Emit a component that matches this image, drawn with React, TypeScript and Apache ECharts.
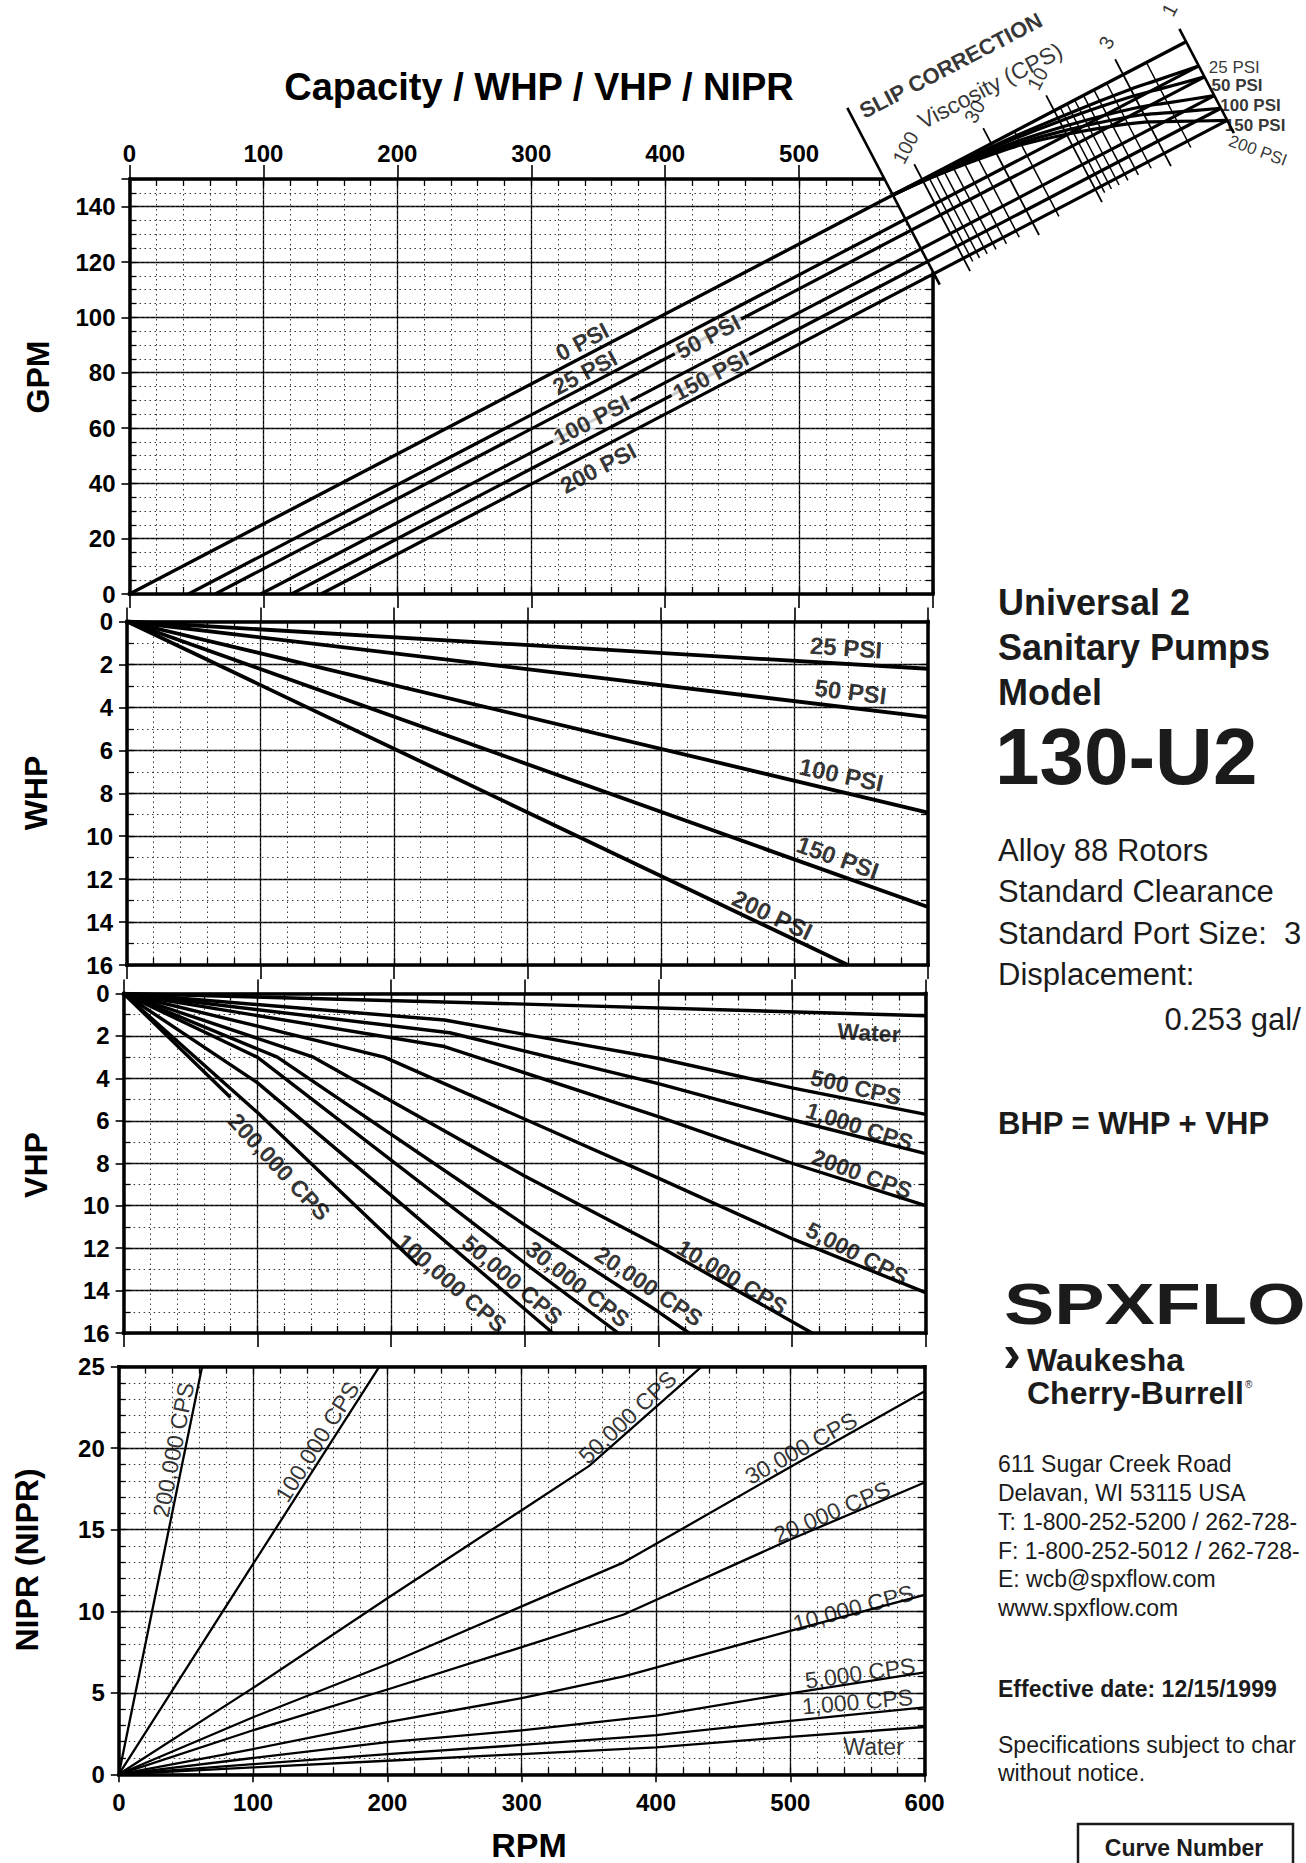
import React, { useEffect, useRef } from "react";
import * as echarts from "echarts";

const PAGE_W = 1306;
const PAGE_H = 1863;
const SANS = "'Liberation Sans', Arial, Helvetica, sans-serif";
const INK = "#000";
const TEXT_INK = "#1b1b1b";

// ================= DATA =================
// Capacity (GPM) vs RPM
const GPM_PER_REV = 0.253;
const PRESSURES = ["0 PSI", "25 PSI", "50 PSI", "100 PSI", "150 PSI", "200 PSI"];
const ZERO_FLOW_RPM = [0, 44, 64, 98, 121, 143];

// Slip correction nomogram (positions measured on the 0 PSI line, in RPM)
const NOMO_BASE_RPM = 570; // slip-correction baseline
const NOMO_100CPS_RPM = 592;
const NOMO_1CPS_RPM = 789;
const VISC_MAJOR = [100, 30, 10, 3, 1];
const VISC_MINOR = [90, 80, 70, 60, 50, 40, 20, 9, 8, 7, 6, 5, 4, 2];
const SLIP_VISC = [100, 50, 30, 20, 10, 5, 3, 2, 1];
const SLIP_FRACTION = [0.02, 0.07, 0.12, 0.17, 0.3, 0.46, 0.6, 0.75, 1];

// WHP vs RPM
const WHP_25 = [[0, 0], [600, 2.2]];
const WHP_50 = [[0, 0], [600, 4.45]];
const WHP_100 = [[0, 0], [600, 8.9]];
const WHP_150 = [[0, 0], [600, 13.3]];
const WHP_200 = [[0, 0], [540, 16]];

// VHP vs RPM
const VHP_WATER = [[0, 0], [300, 0.5], [600, 1.05]];
const VHP_500 = [[0, 0], [240, 1.25], [400, 3.05], [500, 4.45], [600, 5.7]];
const VHP_1000 = [[0, 0], [244, 1.85], [400, 4.25], [500, 5.95], [600, 7.55]];
const VHP_2000 = [[0, 0], [240, 2.5], [400, 5.8], [500, 8.0], [600, 10.0]];
const VHP_5000 = [[0, 0], [195, 3.0], [400, 8.7], [500, 11.55], [600, 14.1]];
const VHP_10000 = [[0, 0], [142, 3.0], [300, 8.6], [400, 11.9], [515, 16]];
const VHP_20000 = [[0, 0], [115, 3.0], [300, 10.9], [400, 15.0], [423, 16]];
const VHP_30000 = [[0, 0], [100, 3.0], [300, 12.7], [370, 16]];
const VHP_50000 = [[0, 0], [100, 4.2], [200, 9.5], [321, 16]];
const VHP_100000 = [[0, 0], [100, 5.6], [220, 12.8]];
const VHP_200000 = [[0, 0], [80, 4.9]];

// NIPR vs RPM
const NIPR_WATER = [[0, 0], [100, 0.42], [200, 0.83], [300, 1.24], [400, 1.65], [500, 2.3], [600, 2.9]];
const NIPR_1000 = [[0, 0], [100, 0.62], [200, 1.24], [300, 1.8], [400, 2.4], [500, 3.28], [600, 4.1]];
const NIPR_5000 = [[0, 0], [100, 1.0], [200, 1.97], [300, 2.7], [400, 3.6], [500, 4.97], [600, 6.25]];
const NIPR_10000 = [[0, 0], [100, 1.55], [200, 3.2], [300, 4.67], [376, 6.0], [500, 8.8], [600, 11.0]];
const NIPR_20000 = [[0, 0], [100, 2.7], [200, 5.2], [300, 7.8], [376, 9.8], [500, 14.4], [600, 17.9]];
const NIPR_30000 = [[0, 0], [100, 3.5], [200, 6.75], [300, 10.3], [376, 13.0], [500, 18.85], [600, 23.5]];
const NIPR_50000 = [[0, 0], [100, 5.3], [200, 10.8], [300, 16.2], [350, 18.9], [434, 25]];
const NIPR_100000 = [[0, 0], [100, 12.9], [194, 25]];
const NIPR_200000 = [[0, 0], [62, 25]];

// ================= LAYOUT =================
const PANELS = [
  { left: 129.5, top: 179, right: 933, bottom: 594, yMax: 150, yMajor: 20, yMinor: 5, inverse: false },
  { left: 127, top: 621.5, right: 928, bottom: 965, yMax: 16, yMajor: 2, yMinor: 1, inverse: true },
  { left: 123.6, top: 993.5, right: 925.7, bottom: 1333, yMax: 16, yMajor: 2, yMinor: 1, inverse: true },
  { left: 118.8, top: 1366.7, right: 924.6, bottom: 1774.3, yMax: 25, yMajor: 5, yMinor: 1, inverse: false },
];
// overlay of the capacity panel, same scale, extended up/right for the nomogram
const OVER_X_MAX = 870;
const OVER_Y_MAX = 212;

const GPM_LABELS = [
  { text: "0 PSI", at: [338, 91.2], rot: 27.6 },
  { text: "25 PSI", at: [340, 80.1], rot: 27.6 },
  { text: "100 PSI", at: [345, 62.8], rot: 27.6, gap: true },
  { text: "200 PSI", at: [350, 45.5], rot: 27.6 },
  { text: "50 PSI", at: [432, 93], rot: 27.6, gap: true },
  { text: "150 PSI", at: [434, 79], rot: 27.6, gap: true },
];
const WHP_LABELS = [
  { text: "25 PSI", at: [538.6, 1.22], rot: -4 },
  { text: "50 PSI", at: [542, 3.27], rot: -7 },
  { text: "100 PSI", at: [535, 7.14], rot: -12 },
  { text: "150 PSI", at: [532.4, 11.0], rot: -19.6 },
  { text: "200 PSI", at: [483.4, 13.67], rot: -25.4 },
];
const VHP_LABELS = [
  { text: "Water", at: [557.6, 1.85], rot: -3 },
  { text: "500 CPS", at: [547.8, 4.42], rot: -13 },
  { text: "1,000 CPS", at: [550.5, 6.27], rot: -18 },
  { text: "2000 CPS", at: [552.3, 8.5], rot: -20 },
  { text: "5,000 CPS", at: [548.7, 12.25], rot: -27 },
  { text: "10,000 CPS", at: [455.3, 13.37], rot: -31 },
  { text: "20,000 CPS", at: [393, 13.8], rot: -34 },
  { text: "30,000 CPS", at: [339.7, 13.7], rot: -38 },
  { text: "50,000 CPS", at: [290.8, 13.5], rot: -40.5 },
  { text: "100,000 CPS", at: [245.4, 13.65], rot: -41 },
  { text: "200,000 CPS", at: [116.5, 8.17], rot: -47 },
];
const NIPR_LABELS = [
  { text: "200,000 CPS", at: [40.7, 19.9], rot: 79 },
  { text: "100,000 CPS", at: [147.8, 20.4], rot: 58 },
  { text: "50,000 CPS", at: [378.8, 21.9], rot: 43 },
  { text: "30,000 CPS", at: [508, 20.0], rot: 29 },
  { text: "20,000 CPS", at: [531, 16.1], rot: 23 },
  { text: "10,000 CPS", at: [547, 10.2], rot: 15 },
  { text: "5,000 CPS", at: [552, 6.2], rot: 8 },
  { text: "1,000 CPS", at: [550, 4.45], rot: 5 },
  { text: "Water", at: [562, 1.68], rot: 0 },
];
const NOMO_END_LABELS = [
  { idx: 1, off: [10, 2], rot: 0, weight: "normal" },
  { idx: 2, off: [7, 9], rot: 0, weight: "bold" },
  { idx: 3, off: [6, 10], rot: 0, weight: "bold" },
  { idx: 4, off: [4, 17], rot: 0, weight: "bold" },
  { idx: 5, off: [9, 18], rot: -20, weight: "normal" },
];

// ================= BUILD =================
function buildOption() {
  const tickLabel = { color: INK, fontFamily: SANS, fontWeight: "bold", fontSize: 24 };
  const frame = (show) => ({ show, onZero: false, lineStyle: { color: INK, width: 3.5, cap: "square" } });
  const majorSplit = { show: true, lineStyle: { color: INK, width: 1.3 } };
  const minorSplit = { show: true, lineStyle: { color: "#3a3a3a", width: 1, type: [1.5, 3.5] } };
  const innerTick = { show: true, inside: true, length: 7, lineStyle: { color: INK, width: 1.3 } };

  const grids = [];
  const xAxis = [];
  const yAxis = [];
  PANELS.forEach((p, i) => {
    const gpm = i === 0;
    const nipr = i === 3;
    grids.push({ left: p.left, top: p.top, width: p.right - p.left, height: p.bottom - p.top, containLabel: false, outerBoundsMode: "none", show: false });
    const xb = { type: "value", gridIndex: i, min: 0, max: 600 };
    xAxis.push(
      { ...xb, interval: 100, position: "bottom", axisLine: frame(true),
        axisTick: { show: true, inside: false, length: nipr ? 8 : 14, lineStyle: { color: INK, width: 1.6 } },
        axisLabel: { show: nipr, margin: 16, ...tickLabel }, splitLine: majorSplit },
      { ...xb, interval: 20, position: "bottom", axisLine: { show: false, onZero: false },
        axisTick: innerTick, axisLabel: { show: false }, splitLine: minorSplit },
      { ...xb, interval: 100, position: "top", axisLine: frame(!gpm),
        axisTick: { show: !nipr, inside: false, length: 14, lineStyle: { color: INK, width: 1.6 } },
        axisLabel: { show: gpm, margin: 14, ...tickLabel, formatter: (v) => (v >= 600 ? "" : String(v)) },
        splitLine: { show: false } },
      { ...xb, interval: 20, position: "top", axisLine: { show: false, onZero: false },
        axisTick: innerTick, axisLabel: { show: false }, splitLine: { show: false } }
    );
    const yb = { type: "value", gridIndex: i, min: 0, max: p.yMax, inverse: p.inverse };
    yAxis.push(
      { ...yb, interval: p.yMajor, position: "left", axisLine: frame(true),
        axisTick: { show: true, inside: false, length: 8, lineStyle: { color: INK, width: 1.6 } },
        axisLabel: { show: true, margin: 14, ...tickLabel, formatter: (v) => (v % p.yMajor === 0 ? String(v) : "") },
        splitLine: majorSplit },
      { ...yb, interval: p.yMinor, position: "left", axisLine: { show: false, onZero: false },
        axisTick: innerTick, axisLabel: { show: false }, splitLine: minorSplit },
      { ...yb, interval: p.yMinor, position: "right", axisLine: frame(!gpm),
        axisTick: innerTick, axisLabel: { show: false }, splitLine: { show: false } }
    );
  });

  // overlay grid sharing the capacity panel's scale (index 4)
  const g = PANELS[0];
  const pxR = (g.right - g.left) / 600;
  const pxG = (g.bottom - g.top) / 150;
  grids.push({ left: g.left, top: g.bottom - OVER_Y_MAX * pxG, width: OVER_X_MAX * pxR, height: OVER_Y_MAX * pxG, containLabel: false, outerBoundsMode: "none", show: false });
  const OX = xAxis.length;
  const OY = yAxis.length;
  xAxis.push({ type: "value", gridIndex: 4, min: 0, max: OVER_X_MAX, show: false, splitLine: { show: false } });
  yAxis.push({ type: "value", gridIndex: 4, min: 0, max: OVER_Y_MAX, show: false, splitLine: { show: false } });

  const series = [];
  const axesOf = (panel) => (panel === "over" ? { xAxisIndex: OX, yAxisIndex: OY } : { xAxisIndex: panel * 4, yAxisIndex: panel * 3 });
  const line = (panel, data, width, z = 2) => ({
    type: "line", ...axesOf(panel), data, symbol: "none", showSymbol: false,
    lineStyle: { color: INK, width, join: "round" }, silent: true, z, emphasis: { disabled: true },
  });
  const labels = (panel, items, style) => ({
    type: "scatter", ...axesOf(panel), symbolSize: 1, silent: true, clip: false, z: 6,
    itemStyle: { color: "rgba(0,0,0,0)" }, emphasis: { disabled: true },
    data: items.map((it) => ({
      value: it.at, name: it.text,
      label: { rotate: it.rot || 0, ...(it.gap ? { backgroundColor: "#fff", padding: [0, 3], lineHeight: 18 } : {}), ...(it.label || {}) },
    })),
    label: { show: true, position: "inside", formatter: "{b}", color: INK, fontFamily: SANS, ...style },
  });

  // ---- nomogram geometry in GPM data space ----
  const K = GPM_PER_REV;
  const M = -(pxR * pxR) / (K * pxG * pxG); // viscosity-line direction (perpendicular on paper)
  const sFor = (off) => (K * off) / (K - M);
  const onLine = (r, s) => [r + s, K * r + M * s];
  const DEC = (NOMO_1CPS_RPM - NOMO_100CPS_RPM) / 2;
  const viscRpm = (v) => NOMO_1CPS_RPM - DEC * Math.log10(v);
  const sMax = sFor(ZERO_FLOW_RPM[ZERO_FLOW_RPM.length - 1]);

  // white mask for grid beyond the slip-correction baseline
  const sTopMask = (156 - K * NOMO_BASE_RPM) / M;
  const maskPts = [onLine(NOMO_BASE_RPM, sTopMask), [618, 156], [618, onLine(NOMO_BASE_RPM, 36)[1]], onLine(NOMO_BASE_RPM, 36)];
  series.push({
    type: "custom", xAxisIndex: OX, yAxisIndex: OY, z: 1, silent: true, clip: false, data: [[0, 0]],
    renderItem: (params, api) => ({ type: "polygon", shape: { points: maskPts.map((p) => api.coord(p)) }, style: { fill: "#fff" } }),
  });
  // frame pieces of GPM panel
  const sTop = (150 - K * NOMO_BASE_RPM) / M;
  series.push(line("over", [[0, 150], onLine(NOMO_BASE_RPM, sTop)], 3.5, 3));
  series.push(line("over", [[600, 0], [600, K * NOMO_BASE_RPM + M * (600 - NOMO_BASE_RPM)]], 3.5, 3));

  // capacity lines through to the 1 cps line
  PRESSURES.forEach((_, i) => {
    const off = ZERO_FLOW_RPM[i];
    series.push(line("over", [[off, 0], onLine(NOMO_1CPS_RPM, sFor(off))], i === 0 ? 3.4 : 3.2));
  });
  // diagonals and viscosity lines
  series.push(line("over", [onLine(NOMO_BASE_RPM, -34), onLine(NOMO_BASE_RPM, 35)], 2.6));
  VISC_MAJOR.forEach((v) => {
    const r = viscRpm(v);
    series.push(line("over", [onLine(r, v === 1 ? -5 : -6), onLine(r, sMax + 5)], v === 1 ? 2.6 : 1.8));
  });
  VISC_MINOR.forEach((v) => {
    const r = viscRpm(v);
    series.push(line("over", [onLine(r, 0), onLine(r, sMax + 2.5)], 1.5));
  });
  // slip correction curves
  PRESSURES.slice(1).forEach((_, j) => {
    const off = ZERO_FLOW_RPM[j + 1];
    const pts = [onLine(NOMO_BASE_RPM, 0)].concat(SLIP_VISC.map((v, i) => onLine(viscRpm(v), SLIP_FRACTION[i] * sFor(off))));
    series.push({ ...line("over", pts, 3.2), smooth: 0.3 });
  });
  // nomogram texts
  const nomoTexts = [
    { text: "SLIP CORRECTION", at: [613.3, 191.0], rot: 27.6, label: { fontSize: 22, fontWeight: "bold" } },
    { text: "Viscosity (CPS)", at: [642.6, 183.7], rot: 27.6, label: { fontSize: 23 } },
  ].concat(VISC_MAJOR.map((v) => ({ text: String(v), at: onLine(viscRpm(v), -12.5), rot: 62, label: { fontSize: 20 } })));
  series.push(labels("over", nomoTexts, { fontWeight: "normal" }));
  series.push(labels("over", NOMO_END_LABELS.map((l) => ({
    text: PRESSURES[l.idx], at: onLine(NOMO_1CPS_RPM, sFor(ZERO_FLOW_RPM[l.idx])), rot: l.rot,
    label: { align: "left", offset: l.off, fontWeight: l.weight, fontSize: 17 },
  })), { fontSize: 17 }));
  series.push(labels(0, GPM_LABELS, { fontWeight: "bold", fontSize: 23 }));

  // WHP
  [WHP_25, WHP_50, WHP_100, WHP_150, WHP_200].forEach((d) => series.push(line(1, d, 3.8)));
  series.push(labels(1, WHP_LABELS, { fontWeight: "bold", fontSize: 24 }));

  // VHP
  [VHP_WATER, VHP_500, VHP_1000, VHP_2000, VHP_5000, VHP_10000, VHP_20000, VHP_30000, VHP_50000, VHP_100000, VHP_200000]
    .forEach((d) => series.push(line(2, d, 3.4)));
  series.push(labels(2, VHP_LABELS, { fontWeight: "bold", fontSize: 23 }));

  // NIPR
  [NIPR_WATER, NIPR_1000, NIPR_5000, NIPR_10000, NIPR_20000, NIPR_30000, NIPR_50000, NIPR_100000, NIPR_200000]
    .forEach((d) => series.push(line(3, d, 2.3)));
  series.push(labels(3, NIPR_LABELS, { fontWeight: "normal", fontSize: 23 }));

  // ---- page texts ----
  const txt = (text, x, y, font, o: any = {}) => ({
    type: "text", x, y, rotation: o.rot || 0, scaleX: o.sx || 1, silent: true, z: 20,
    style: { text, font, fill: o.fill || TEXT_INK, textAlign: o.align || "left", textVerticalAlign: o.va || "middle" },
  });
  const f = (w, s) => `${w} ${s}px ${SANS}`;
  const graphic = [
    txt("Capacity / WHP / VHP / NIPR", 539, 87, f("bold", 38), { align: "center", fill: INK }),
    txt("GPM", 38, 377, f("bold", 32), { align: "center", rot: Math.PI / 2, fill: INK }),
    txt("WHP", 36, 793, f("bold", 32), { align: "center", rot: Math.PI / 2, fill: INK }),
    txt("VHP", 36, 1165, f("bold", 32), { align: "center", rot: Math.PI / 2, fill: INK }),
    txt("NIPR (NIPR)", 27, 1560, f("bold", 32), { align: "center", rot: Math.PI / 2, fill: INK }),
    txt("RPM", 529, 1845, f("bold", 34), { align: "center", fill: INK }),
    txt("Universal 2", 998, 602.5, f("bold", 36)),
    txt("Sanitary Pumps", 998, 647.7, f("bold", 36)),
    txt("Model", 998, 692.8, f("bold", 36)),
    txt("130-U2", 995, 756, f("bold", 80)),
    txt("Alloy 88 Rotors", 998, 850, f("normal", 31)),
    txt("Standard Clearance", 998, 891, f("normal", 31)),
    txt("Standard Port Size:  3", 998, 933, f("normal", 31)),
    txt("Displacement:", 998, 974.5, f("normal", 31)),
    txt("0.253 gal/", 1164.6, 1019.6, f("normal", 31)),
    txt("BHP = WHP + VHP", 998, 1123, f("bold", 31)),
    txt("SPXFLO", 1004, 1304, f("bold", 58), { sx: 1.3 }),
    txt("›", 1003, 1353, f("bold", 54)),
    txt("Waukesha", 1027, 1359.5, f("bold", 32)),
    txt("Cherry-Burrell", 1027, 1393, f("bold", 32)),
    txt("®", 1245, 1384, f("normal", 10)),
    txt("611 Sugar Creek Road", 998, 1464, f("normal", 23)),
    txt("Delavan, WI 53115 USA", 998, 1492.6, f("normal", 23)),
    txt("T: 1-800-252-5200 / 262-728-", 998, 1522, f("normal", 23)),
    txt("F: 1-800-252-5012 / 262-728-", 998, 1551, f("normal", 23)),
    txt("E: wcb@spxflow.com", 998, 1579.4, f("normal", 23)),
    txt("www.spxflow.com", 998, 1608, f("normal", 23)),
    txt("Effective date: 12/15/1999", 998, 1689, f("bold", 23)),
    txt("Specifications subject to char", 998, 1744.6, f("normal", 23)),
    txt("without notice.", 998, 1773, f("normal", 23)),
    { type: "rect", silent: true, z: 20, shape: { x: 1078, y: 1824, width: 215, height: 60 }, style: { fill: "none", stroke: TEXT_INK, lineWidth: 2.5 } },
    txt("Curve Number", 1184, 1848, f("bold", 23), { align: "center" }),
  ];

  return {
    animation: false,
    backgroundColor: "#fff",
    grid: grids,
    xAxis,
    yAxis,
    series,
    graphic,
  };
}

export default function App() {
  const ref = useRef<HTMLDivElement>(null);
  useEffect(() => {
    const chart = echarts.init(ref.current as HTMLDivElement, null, { renderer: "svg", width: PAGE_W, height: PAGE_H });
    chart.setOption(buildOption() as any);
    return () => chart.dispose();
  }, []);
  return (
    <div
      ref={ref}
      style={{ position: "absolute", left: 0, top: 0, width: PAGE_W, height: PAGE_H, background: "#fff", overflow: "hidden" }}
    />
  );
}
